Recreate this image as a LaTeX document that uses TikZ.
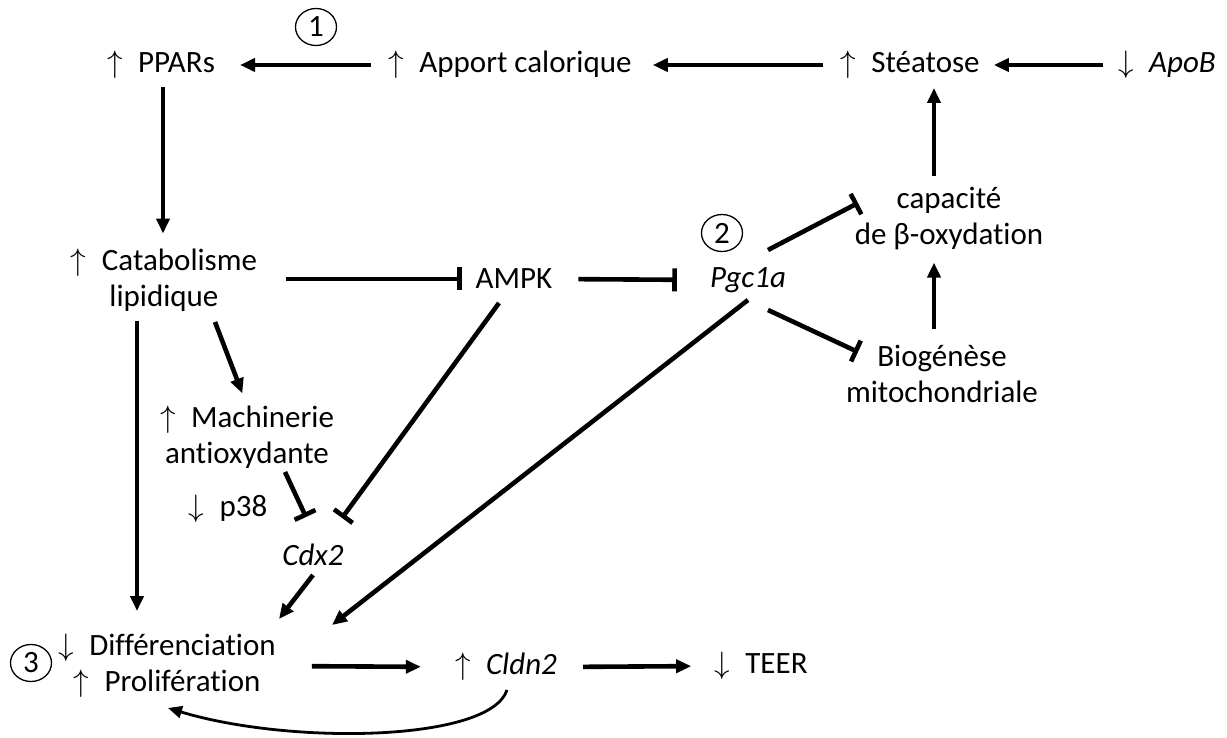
\RequirePackage{fix-cm}
\documentclass[tikz,border=0pt]{standalone}
\usepackage{fontspec}
\setmainfont{Carlito}[Ligatures=NoCommon]
\usetikzlibrary{arrows.meta,shapes.geometric}
\newcommand{\upar}{$\uparrow$\hspace{0.5em}}
\newcommand{\dnar}{$\downarrow$\hspace{0.5em}}

\begin{document}
\begin{tikzpicture}[x=1pt,y=-1pt,
    every node/.style={font=\fontsize{31}{36}\selectfont,align=center,inner sep=0pt},
    arr/.style={line width=4.6pt,-{Triangle[length=15pt,width=13pt]}},
    inh/.style={line width=4.6pt,-{Bar[width=23pt]}},
    num/.style={draw,ellipse,line width=1.3pt,minimum width=41pt,minimum height=37pt}]
  \useasboundingbox (0,0) rectangle (1227,738);
  % top row
  \node (ppar)   at (161,65)  {\upar PPARs};
  \node (apport) at (510,65)  {\upar Apport calorique};
  \node (steat)  at (910,65)  {\upar Stéatose};
  \node (apob)   at (1167,65) {\dnar\textit{ApoB}};
  % middle
  \node (catab) at (164,280) {\upar Catabolisme\\lipidique};
  \node (ampk)  at (514,279) {AMPK};
  \node (pgc)   at (748,280) {\textit{Pgc1a}};
  \node (capa)  at (949,219) {capacité\\de β-oxydation};
  \node (biog)  at (942,374) {Biogénèse\\mitochondriale};
  \node (mach)  at (247,437) {\upar Machinerie\\antioxydante};
  \node (p38)   at (228,509) {\dnar p38};
  \node (cdx)   at (313,555) {\textit{Cdx2}};
  % bottom row
  \node (diff) at (167,666) {\dnar Différenciation\\\upar Prolifération};
  \node (cldn) at (506,667) {\upar\textit{Cldn2}};
  \node (teer) at (761,666) {\dnar TEER};
  % circled numbers
  \node[num] (n1) at (316,27)  {1};
  \node[num] (n2) at (722,233) {2};
  \node[num] (n3) at (31,663)  {3};
  % connectors
  \draw[arr,shorten <=17pt,shorten >=25pt] (apport.west) -- (ppar.east);
  \draw[arr,shorten <=17pt,shorten >=21pt] (steat.west) -- (apport.east);
  \draw[arr,shorten <=15pt,shorten >=14pt] (apob.west) -- (steat.east);
  \draw[arr,shorten <=11pt,shorten >=9pt] ([xshift=-15pt]capa.north) -- ([xshift=-15pt]capa.north |- steat.south);
  \draw[arr,shorten <=16pt,shorten >=12pt] ([xshift=-8pt]biog.north) -- ([xshift=-8pt]biog.north |- capa.south);
  \draw[arr,shorten <=8pt,shorten >=15pt] ([xshift=2pt]ppar.south) -- ([xshift=2pt]ppar.south |- catab.north);
  \draw[inh,shorten <=29pt,shorten >=14pt] (catab.east |- ampk.west) -- (ampk.west);
  \draw[inh,shorten <=26pt,shorten >=33pt] (ampk.east) -- (pgc.west);
  \draw[inh] ([shift={(20,-30)}]pgc.center) -- ([shift={(-91,-16)}]capa.center);
  \draw[inh] ([shift={(20,30)}]pgc.center) -- ([shift={(-84,-22)}]biog.center);
  \draw[arr] ([shift={(0,20)}]pgc.center) -- ([shift={(165,-41)}]diff.center);
  \draw[inh] ([shift={(-15,24)}]ampk.center) -- ([shift={(29,-37)}]cdx.center);
  \draw[arr,shorten <=10pt,shorten >=23pt] ([xshift=-27pt]catab.south) -- ([xshift=-27pt]catab.south |- diff.north);
  \draw[arr,shorten >=13pt] ([shift={(51,42)}]catab.center) -- (mach.north);
  \draw[inh] ([shift={(38,35)}]mach.center) -- ([shift={(-7,-38)}]cdx.center);
  \draw[arr] ([shift={(0,20)}]cdx.center) -- ([shift={(112,-47)}]diff.center);
  \draw[arr,shorten <=36pt,shorten >=34pt] (diff.east) -- (cldn.west);
  \draw[arr,shorten <=26pt,shorten >=23pt] (cldn.east) -- (teer.west);
  % feedback loop
  \draw[line width=2.8pt,-{Triangle[length=14pt,width=12pt]}] ([shift={(1,23)}]cldn.center)
    .. controls +(-17,52) and +(122,37) .. ([shift={(1,42)}]diff.center);
\end{tikzpicture}
\end{document}
